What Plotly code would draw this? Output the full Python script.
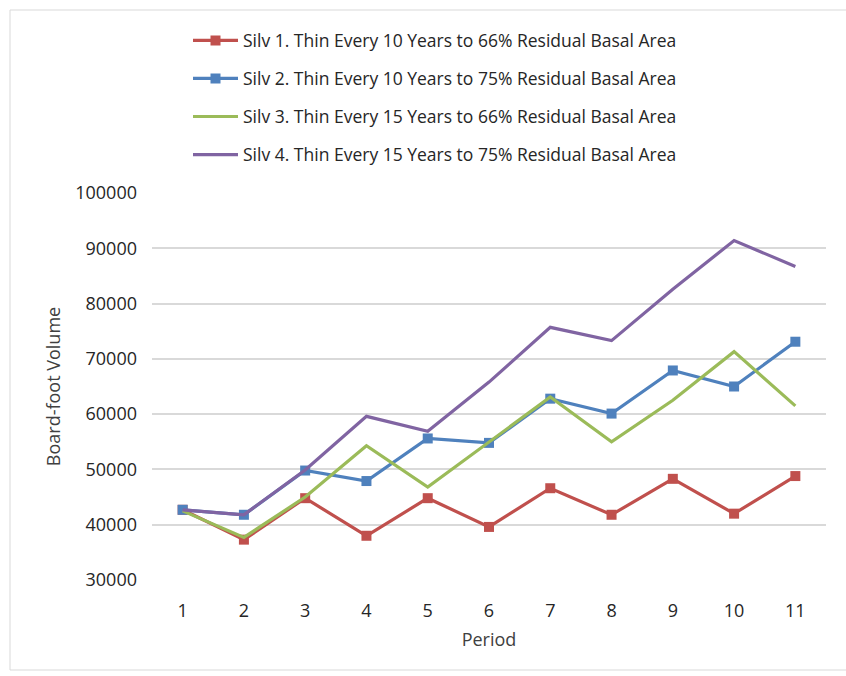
import plotly.graph_objects as go

# Board-foot volume by period for four silvicultural thinning regimes
periods = [1, 2, 3, 4, 5, 6, 7, 8, 9, 10, 11]

silv1 = [42700, 37300, 44800, 38000, 44800, 39600, 46600, 41800, 48300, 42000, 48800]
silv2 = [42700, 41800, 49800, 47900, 55600, 54800, 62800, 60100, 67900, 65000, 73100]
silv3 = [42500, 37700, 45000, 54300, 46800, 55000, 63100, 55000, 62500, 71300, 61500]
silv4 = [42700, 41800, 49900, 59600, 56900, 65800, 75700, 73300, 82600, 91400, 86700]

names = [
    "Silv 1. Thin Every 10 Years to 66% Residual Basal Area",
    "Silv 2. Thin Every 10 Years to 75% Residual Basal Area",
    "Silv 3. Thin Every 15 Years to 66% Residual Basal Area",
    "Silv 4. Thin Every 15 Years to 75% Residual Basal Area",
]
colors = ["#c0504d", "#4f81bd", "#9bbb59", "#8064a2"]
series = [silv1, silv2, silv3, silv4]
with_markers = [True, True, False, False]

y_ticks = [30000, 40000, 50000, 60000, 70000, 80000, 90000, 100000]

W, H = 846, 676
L, R, T, B = 152, 20, 193, 96

fig = go.Figure()
for i, (name, col, vals, mk) in enumerate(zip(names, colors, series, with_markers)):
    fig.add_trace(go.Scatter(
        x=periods, y=vals, name=name,
        mode="lines+markers" if mk else "lines",
        line=dict(color=col, width=3.2),
        marker=dict(symbol="square", size=10, color=col),
        legendgroup=f"g{i}",
    ))

font_main = "Open Sans, Liberation Sans, sans-serif"

fig.update_layout(
    width=W, height=H,
    margin=dict(l=L, r=R, t=T, b=B),
    paper_bgcolor="white", plot_bgcolor="white",
    font=dict(family=font_main, size=18, color="#404040"),
    showlegend=True,
    legend=dict(
        x=(188 - L) / (W - L - R), y=1 + (T - 22.5) / (H - T - B),
        xanchor="left", yanchor="top",
        font=dict(family=font_main, size=17.5, color="#262626"),
        tracegroupgap=12.3, itemwidth=45, bgcolor="rgba(0,0,0,0)",
    ),
    xaxis=dict(
        range=[0.5, 11.5], tickmode="array", tickvals=periods,
        ticktext=[str(p) for p in periods],
        showgrid=False, zeroline=False, showline=False, ticks="",
        ticklabelstandoff=18,
        tickfont=dict(size=18, color="#262626"),
        title=dict(text="Period", font=dict(size=18, color="#404040"), standoff=12),
    ),
    yaxis=dict(
        range=[30000, 100000], tickmode="array", tickvals=y_ticks,
        ticktext=[str(v) for v in y_ticks],
        showgrid=True, gridcolor="#d9d9d9", gridwidth=1.5,
        zeroline=False, showline=False, ticks="",
        ticklabelstandoff=14,
        tickfont=dict(size=18, color="#262626"),
        title=dict(text="Board-foot Volume", font=dict(size=18, color="#404040"), standoff=9),
    ),
)

# light frame around the whole chart area
pw, ph = W - L - R, H - T - B
fig.add_shape(
    type="rect", xref="paper", yref="paper",
    x0=(10 - L) / pw, x1=(W + 5 - L) / pw,
    y0=(H - B - 670) / ph, y1=(H - B - 10) / ph,
    line=dict(color="#d9d9d9", width=1), layer="below",
)

fig.write_html("out.html")
